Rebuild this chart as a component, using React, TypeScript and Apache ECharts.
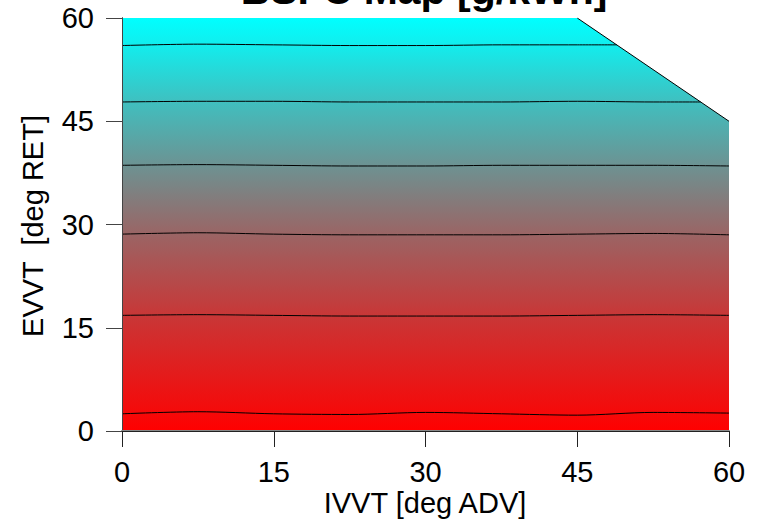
import React, { useEffect, useRef } from 'react';
import * as echarts from 'echarts';

// axis ticks
const ivvtTicks = [0, 15, 30, 45, 60];
const evvtTicks = [0, 15, 30, 45, 60];

// fill: BSFC estimated along EVVT (map is nearly independent of IVVT)
const fillEvvt = [0, 2.6, 16.9, 28.5, 38.6, 47.8, 56.1, 60];
const fillBsfc = [239, 240, 245, 250, 255, 260, 265, 267];

// contour lines (BSFC levels)
const contourLevels = [240, 245, 250, 255, 260, 265];
const c240Ivvt = [0, 7.5, 15, 22.5, 30, 37.5, 45, 52.5, 60];
const c240Evvt = [2.5, 2.8, 2.5, 2.4, 2.7, 2.5, 2.3, 2.7, 2.6];
const c245Ivvt = [0, 7.5, 15, 22.5, 30, 37.5, 45, 52.5, 60];
const c245Evvt = [16.8, 16.9, 16.8, 16.7, 16.7, 16.7, 16.8, 16.9, 16.8];
const c250Ivvt = [0, 7.5, 15, 22.5, 30, 37.5, 45, 52.5, 60];
const c250Evvt = [28.6, 28.8, 28.6, 28.5, 28.5, 28.5, 28.6, 28.7, 28.5];
const c255Ivvt = [0, 7.5, 15, 22.5, 30, 37.5, 45, 52.5, 60];
const c255Evvt = [38.6, 38.7, 38.6, 38.5, 38.5, 38.6, 38.6, 38.6, 38.5];
const c260Ivvt = [0, 7.5, 15, 22.5, 30, 37.5, 45, 52.5, 57.2];
const c260Evvt = [47.8, 47.9, 47.9, 47.8, 47.8, 47.8, 47.9, 47.8, 47.8];
const c265Ivvt = [0, 7.5, 15, 22.5, 30, 37.5, 45, 48.9];
const c265Evvt = [56.0, 56.2, 56.1, 56.0, 56.0, 56.1, 56.1, 56.1];

// region outside the map (top-right corner)
const cornerIvvt = [45, 60, 60];
const cornerEvvt = [60, 45, 60];

const FONT = '"Liberation Sans", Arial, Helvetica, sans-serif';

function bsfcColor(v: number) {
  const lo = fillBsfc[0];
  const hi = fillBsfc[fillBsfc.length - 1];
  const t = Math.max(0, Math.min(1, (v - lo) / (hi - lo)));
  const r = Math.round(255 * (1 - t));
  const g = Math.round(255 * t);
  return `rgb(${r},${g},${g})`;
}

export default function App() {
  const ref = useRef<HTMLDivElement>(null);

  useEffect(() => {
    if (!ref.current) return;
    const chart = echarts.init(ref.current, undefined, { renderer: 'svg' });

    const fillData = fillEvvt.slice(0, -1).map((y, i) => [0, y, fillEvvt[i + 1], fillBsfc[i], fillBsfc[i + 1]]);
    const contours = [
      [c240Ivvt, c240Evvt],
      [c245Ivvt, c245Evvt],
      [c250Ivvt, c250Evvt],
      [c255Ivvt, c255Evvt],
      [c260Ivvt, c260Evvt],
      [c265Ivvt, c265Evvt],
    ];

    const contourSeries = contours.map(([xs, ys], k) => ({
      type: 'line',
      name: String(contourLevels[k]),
      data: xs.map((x, i) => [x, ys[i]]),
      showSymbol: false,
      symbol: 'none',
      smooth: 0.3,
      lineStyle: { color: '#000', width: 1 },
      silent: true,
      z: 5,
    }));

    const axisTextStyle = { color: '#000', fontSize: 29, fontFamily: FONT };

    chart.setOption({
      animation: false,
      grid: { left: 122, right: 30, top: 18, bottom: 90 },
      graphic: [
        {
          type: 'text',
          style: {
            text: 'BSFC Map [g/kWh]',
            x: 424,
            y: -10,
            align: 'center',
            verticalAlign: 'middle',
            fontSize: 41,
            fontWeight: 'bold',
            fontFamily: FONT,
            fill: '#000',
          },
          z: 100,
        },
        {
          type: 'text',
          style: {
            text: 'IVVT [deg ADV]',
            x: 425,
            y: 503,
            align: 'center',
            verticalAlign: 'middle',
            fontSize: 29,
            fontFamily: FONT,
            fill: '#000',
          },
          z: 100,
        },
        {
          type: 'text',
          x: 33,
          y: 226,
          rotation: Math.PI / 2,
          style: {
            text: 'EVVT  [deg RET]',
            x: 0,
            y: 0,
            align: 'center',
            verticalAlign: 'middle',
            fontSize: 29,
            fontFamily: FONT,
            fill: '#000',
          },
          z: 100,
        },
      ],
      xAxis: [
        {
          type: 'value',
          min: 0,
          max: 60,
          interval: 15,
          position: 'bottom',
          offset: 1,
          z: 10,
          axisLine: { show: true, lineStyle: { color: '#888', width: 2 } },
          axisTick: { show: true, length: 16, lineStyle: { color: '#222', width: 1 } },
          axisLabel: { ...axisTextStyle, margin: 25, formatter: (v: number) => (ivvtTicks.includes(v) ? String(v) : '') },
          splitLine: { show: false },
        },
        {
          type: 'value',
          min: 0,
          max: 60,
          position: 'top',
          z: 10,
          axisLine: { show: true, lineStyle: { color: '#222', width: 1 } },
          axisTick: { show: false },
          axisLabel: { show: false },
          splitLine: { show: false },
        },
      ],
      yAxis: [
        {
          type: 'value',
          min: 0,
          max: 60,
          interval: 15,
          position: 'left',
          offset: 3,
          z: 10,
          axisLine: { show: true, lineStyle: { color: '#222', width: 1 } },
          axisTick: { show: true, length: 16, lineStyle: { color: '#444', width: 1 } },
          axisLabel: { ...axisTextStyle, margin: 25, formatter: (v: number) => (evvtTicks.includes(v) ? String(v) : '') },
          splitLine: { show: false },
        },
        {
          type: 'value',
          min: 0,
          max: 60,
          position: 'right',
          z: 10,
          axisLine: { show: true, lineStyle: { color: '#777', width: 1 } },
          axisTick: { show: false },
          axisLabel: { show: false },
          splitLine: { show: false },
        },
        {
          type: 'value',
          min: 0,
          max: 60,
          position: 'left',
          offset: 0,
          z: 10,
          axisLine: { show: true, lineStyle: { color: '#444', width: 1 } },
          axisTick: { show: false },
          axisLabel: { show: false },
          splitLine: { show: false },
        },
      ],
      series: [
        {
          type: 'custom',
          name: 'fill',
          silent: true,
          clip: true,
          z: 1,
          data: fillData,
          encode: { x: 0, y: 1 },
          renderItem: (params: any, api: any) => {
            const y0 = api.value(1);
            const y1 = api.value(2);
            const v0 = api.value(3);
            const v1 = api.value(4);
            const pTop = api.coord([0, y1]);
            const pBot = api.coord([60, y0]);
            return {
              type: 'rect',
              shape: {
                x: pTop[0],
                y: pTop[1],
                width: pBot[0] - pTop[0],
                height: pBot[1] - pTop[1] + 0.6,
              },
              style: {
                fill: new echarts.graphic.LinearGradient(0, 0, 0, 1, [
                  { offset: 0, color: bsfcColor(v1) },
                  { offset: 1, color: bsfcColor(v0) },
                ]),
                stroke: null,
              },
            };
          },
        },
        {
          type: 'custom',
          name: 'outside',
          silent: true,
          z: 3,
          data: [[cornerIvvt[0], cornerEvvt[0]]],
          renderItem: (params: any, api: any) => {
            const pts = cornerIvvt.map((x, i) => api.coord([x, cornerEvvt[i]]));
            return {
              type: 'polygon',
              shape: { points: pts },
              style: { fill: '#fff', stroke: null },
            };
          },
        },
        {
          type: 'line',
          name: 'boundary',
          data: [[cornerIvvt[0], cornerEvvt[0]], [cornerIvvt[1], cornerEvvt[1]]],
          showSymbol: false,
          symbol: 'none',
          lineStyle: { color: '#000', width: 1 },
          silent: true,
          z: 6,
        },
        ...contourSeries,
      ],
    });

    return () => chart.dispose();
  }, []);

  return (
    <div
      ref={ref}
      style={{ position: 'absolute', left: 0, top: 0, width: 759, height: 521, background: '#fff' }}
    />
  );
}
